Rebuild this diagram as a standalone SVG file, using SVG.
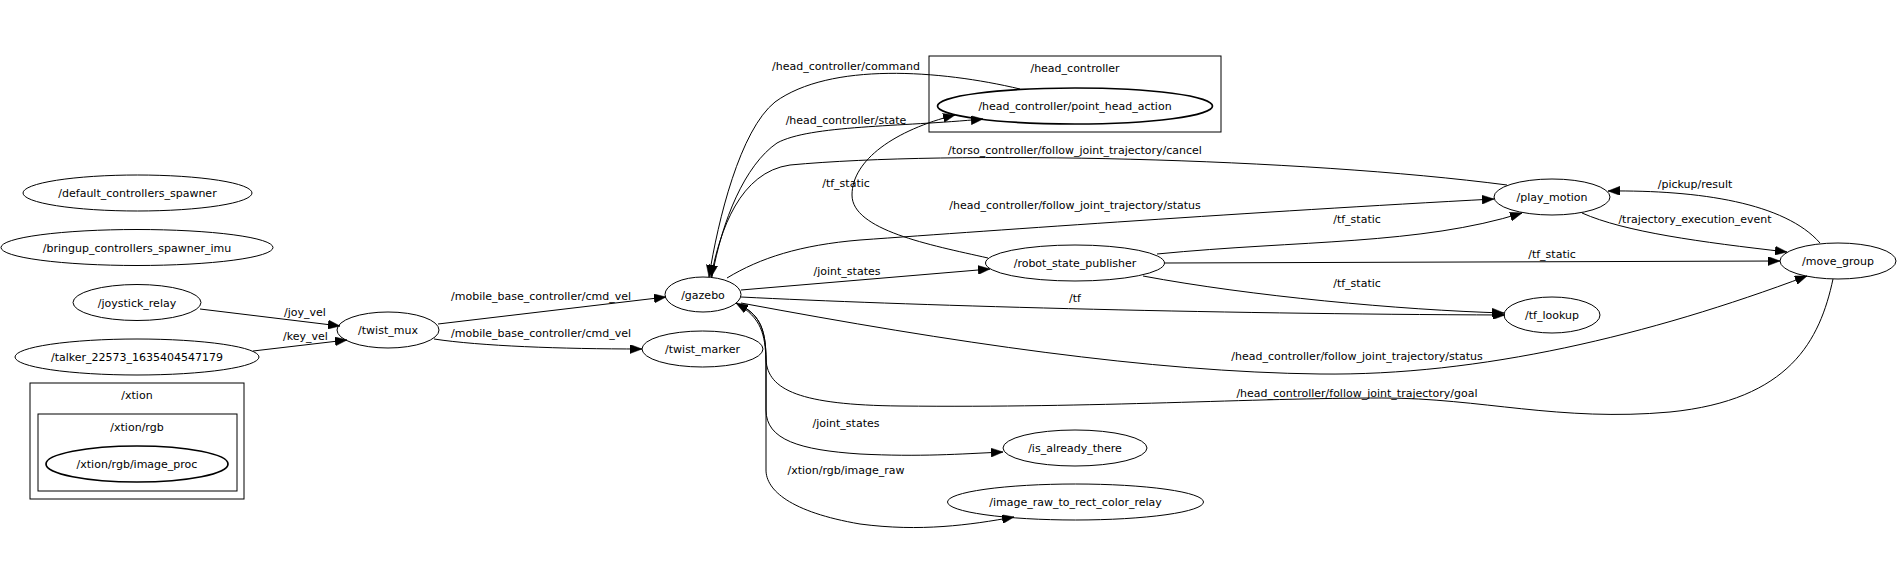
<svg xmlns="http://www.w3.org/2000/svg" width="1898" height="586" viewBox="0 0 1898 586">
<style>
text{font-family:"DejaVu Sans","Liberation Sans",sans-serif;font-size:11px;fill:#000;text-anchor:middle}
.n ellipse{fill:none;stroke:#000;stroke-width:1}
.n ellipse.b{stroke-width:1.7}
.c rect{fill:none;stroke:#000;stroke-width:1}
.e path{fill:none;stroke:#000;stroke-width:1;marker-end:url(#ah)}
.e path.na{marker-end:none}
</style>
<defs>
<marker id="ah" markerWidth="12" markerHeight="9" refX="12" refY="4.5" orient="auto" markerUnits="userSpaceOnUse"><path d="M0,0 L12,4.5 L0,9 z" fill="#000" stroke="#000" stroke-width="0.5"/></marker>
</defs>
<rect width="1898" height="586" fill="#fff"/>

<g id="cluster_xtion" class="c"><rect x="30" y="383" width="214" height="116"/><text x="137" y="399">/xtion</text></g>
<g id="cluster_xtion_rgb" class="c"><rect x="38" y="414" width="199" height="77"/><text x="137" y="431">/xtion/rgb</text></g>
<g id="cluster_head_controller" class="c"><rect x="929" y="56" width="292" height="76"/><text x="1075" y="72">/head_controller</text></g>

<g id="edges" class="e">
<path d="M200,309 L340,326"/>
<path d="M253,351 L347,340"/>
<path d="M438,324 L666,297"/>
<path d="M434,339 C480,346 560,349 642,349"/>
<path d="M1020,89 C940,70 830,62 775,102 C740,130 718,220 709,277"/>
<path d="M712,277 C722,220 745,165 777,143 C810,125 900,127 983,119"/>
<path d="M1507,185 C1300,158 950,150 790,165 C740,172 720,230 711,277"/>
<path d="M988,258 C930,245 852,230 852,195 C852,160 895,130 955,115"/>
<path d="M727,278 C760,258 800,245 860,240 C1000,230 1250,212 1494,199"/>
<path d="M741,290 L990,269"/>
<path d="M741,297 C900,305 1200,314 1505,315"/>
<path d="M1157,254 C1300,240 1420,245 1522,213"/>
<path d="M1165,263 L1780,261"/>
<path d="M1143,276 C1250,296 1400,310 1504,313"/>
<path d="M741,303 C950,342 1150,372 1320,374 C1480,376 1650,335 1807,276"/>
<path d="M1833,279 C1820,340 1790,400 1670,412 C1560,422 1480,398 1383,398 C1250,398 1100,408 900,406 C800,405 768,390 766,360 C765,335 762,318 736,303"/>
<path d="M742,306 C760,316 766,330 766,360 L766,410 C766,440 800,450 860,454 C920,457 960,454 1003,452"/>
<path d="M742,306 C760,316 766,330 766,360 L766,470 C766,490 790,512 860,524 C920,532 970,525 1014,517"/>
<path d="M1820,243 C1785,203 1700,190 1608,191"/>
<path d="M1582,213 C1625,232 1700,242 1787,252"/>
</g>

<g id="edge_labels">
<text x="305" y="316">/joy_vel</text>
<text x="305.5" y="340">/key_vel</text>
<text x="541" y="300">/mobile_base_controller/cmd_vel</text>
<text x="541" y="337">/mobile_base_controller/cmd_vel</text>
<text x="846" y="70">/head_controller/command</text>
<text x="846" y="124">/head_controller/state</text>
<text x="846" y="187">/tf_static</text>
<text x="847" y="275">/joint_states</text>
<text x="1075" y="154">/torso_controller/follow_joint_trajectory/cancel</text>
<text x="1075" y="209">/head_controller/follow_joint_trajectory/status</text>
<text x="1357" y="223">/tf_static</text>
<text x="1357" y="287">/tf_static</text>
<text x="1075" y="302">/tf</text>
<text x="1552" y="258">/tf_static</text>
<text x="1695" y="188">/pickup/result</text>
<text x="1695" y="223">/trajectory_execution_event</text>
<text x="1357" y="360">/head_controller/follow_joint_trajectory/status</text>
<text x="1357" y="397">/head_controller/follow_joint_trajectory/goal</text>
<text x="846" y="427">/joint_states</text>
<text x="846" y="474">/xtion/rgb/image_raw</text>
</g>

<g id="n_default_controllers_spawner" class="n"><ellipse cx="137.5" cy="193" rx="114.5" ry="18"/><text x="137.5" y="197">/default_controllers_spawner</text></g>
<g id="n_bringup_controllers_spawner_imu" class="n"><ellipse cx="137" cy="247.5" rx="136" ry="18"/><text x="137" y="251.5">/bringup_controllers_spawner_imu</text></g>
<g id="n_joystick_relay" class="n"><ellipse cx="137" cy="302.5" rx="64" ry="18"/><text x="137" y="306.5">/joystick_relay</text></g>
<g id="n_talker" class="n"><ellipse cx="137" cy="357" rx="122" ry="18"/><text x="137" y="361">/talker_22573_1635404547179</text></g>
<g id="n_image_proc" class="n"><ellipse class="b" cx="137" cy="464" rx="91" ry="18"/><text x="137" y="468">/xtion/rgb/image_proc</text></g>
<g id="n_twist_mux" class="n"><ellipse cx="388" cy="330" rx="51" ry="18"/><text x="388" y="334">/twist_mux</text></g>
<g id="n_gazebo" class="n"><ellipse cx="703" cy="294.5" rx="38" ry="17.5"/><text x="703" y="298.5">/gazebo</text></g>
<g id="n_twist_marker" class="n"><ellipse cx="702.5" cy="349" rx="60.5" ry="18"/><text x="702.5" y="353">/twist_marker</text></g>
<g id="n_point_head_action" class="n"><ellipse class="b" cx="1075" cy="106" rx="137.5" ry="18"/><text x="1075" y="110">/head_controller/point_head_action</text></g>
<g id="n_robot_state_publisher" class="n"><ellipse cx="1075" cy="263" rx="89.5" ry="18"/><text x="1075" y="267">/robot_state_publisher</text></g>
<g id="n_is_already_there" class="n"><ellipse cx="1075" cy="448" rx="72" ry="18"/><text x="1075" y="452">/is_already_there</text></g>
<g id="n_image_raw_to_rect_color_relay" class="n"><ellipse cx="1075.5" cy="502" rx="128" ry="18"/><text x="1075.5" y="506">/image_raw_to_rect_color_relay</text></g>
<g id="n_play_motion" class="n"><ellipse cx="1552" cy="197" rx="58" ry="18"/><text x="1552" y="201">/play_motion</text></g>
<g id="n_tf_lookup" class="n"><ellipse cx="1552" cy="315" rx="48" ry="18"/><text x="1552" y="319">/tf_lookup</text></g>
<g id="n_move_group" class="n"><ellipse cx="1838" cy="261" rx="58" ry="18"/><text x="1838" y="265">/move_group</text></g>
</svg>
